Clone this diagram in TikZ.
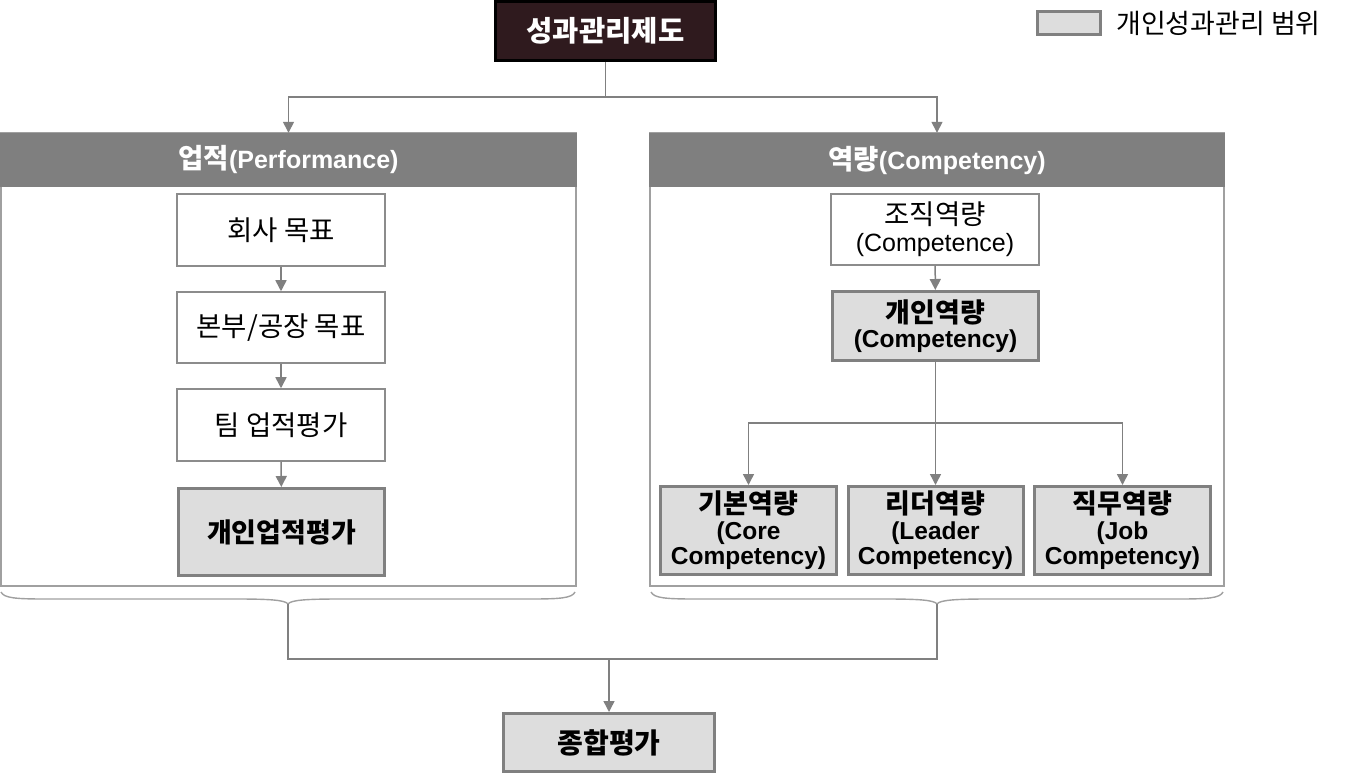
\documentclass[tikz,border=0pt]{standalone}
\usepackage{fontspec}
\setmainfont{Liberation Sans}
\newfontfamily\kr[Scale=1.1]{Noto Sans CJK KR}
\usetikzlibrary{arrows.meta}
\newcommand\K[1]{{\kr #1}}
\definecolor{titlefill}{RGB}{47,26,30}
\definecolor{hdrgray}{RGB}{127,127,127}
\definecolor{boxgray}{RGB}{221,221,221}
\definecolor{edgegray}{RGB}{128,128,128}
\definecolor{linegray}{RGB}{140,140,140}
\definecolor{panelgray}{RGB}{160,160,160}
\begin{document}
\begin{tikzpicture}[x=1pt,y=-1pt,
  base/.style={draw, rectangle, inner sep=0pt, align=center, text=black},
  whitebox/.style={base, draw=linegray, line width=1.5pt, fill=white, minimum width=208pt, font=\fontsize{25}{27}\selectfont},
  graybox/.style={base, draw=edgegray, line width=3pt, fill=boxgray, font=\bfseries\fontsize{24.5}{25.5}\selectfont},
  panel/.style={draw=panelgray, line width=1.3pt, fill=white, rectangle, inner sep=0pt},
  header/.style={fill=hdrgray, rectangle, inner sep=0pt, text=white, font=\bfseries\fontsize{25}{27}\selectfont},
  conn/.style={draw=edgegray, line width=1.5pt},
  arr/.style={conn, -{Triangle[width=11pt,length=11pt]}},
  bracestyle/.style={draw=panelgray, line width=1.4pt},
]
\useasboundingbox (0,0) rectangle (1349,775);

% title
\node[draw=black, line width=3pt, fill=titlefill, text=white, inner sep=0pt,
      font=\kr\bfseries\fontsize{26}{28}\selectfont,
      minimum width=220pt, minimum height=59pt] (title) at (605.5,31) {성과관리제도};

% legend
\node[graybox, minimum width=63pt, minimum height=23pt] (leg) at (1068.5,23.5) {};
\node[anchor=west, inner sep=0pt, font=\kr\fontsize{24.5}{26}\selectfont] (legt) at (1116,23.5) {개인성과관리 범위};

% panels
\node[panel, minimum width=575pt, minimum height=453pt] (lp) at (288.5,359.5) {};
\node[panel, minimum width=574pt, minimum height=453pt] (rp) at (937,359.5) {};
\node[header, minimum width=576.5pt, minimum height=54pt] (lhdr) at (288.5,160) {\K{업적}(Performance)};
\node[header, minimum width=575.5pt, minimum height=54pt] (rhdr) at (937,160) {\K{역량}(Competency)};

% left chain
\node[whitebox, minimum height=72pt] (a1) at (281,230) {\K{회사 목표}};
\node[whitebox, minimum height=71pt] (a2) at (281,327.5) {\K{본부/공장 목표}};
\node[whitebox, minimum height=72pt] (a3) at (281,425) {\K{팀 업적평가}};
\node[graybox, minimum width=206pt, minimum height=87pt] (a4) at (281.5,532) {\K{개인업적평가}};

% right chain
\node[whitebox, minimum height=71pt] (b1) at (935,229.5) {\K{조직역량}\\(Competence)};
\node[graybox, minimum width=206pt, minimum height=69pt] (b2) at (935.5,326) {\K{개인역량}\\(Competency)};
\node[graybox, minimum width=176pt, minimum height=88pt] (c1) at (748.5,530.5) {\K{기본역량}\\(Core\\Competency)};
\node[graybox, minimum width=175pt, minimum height=88pt] (c2) at (935.5,530.5) {\K{리더역량}\\(Leader\\Competency)};
\node[graybox, minimum width=176pt, minimum height=88pt] (c3) at (1122.5,530.5) {\K{직무역량}\\(Job\\Competency)};

% final
\node[graybox, minimum width=211pt, minimum height=58pt, font=\kr\bfseries\fontsize{25.5}{27}\selectfont] (final) at (609,742.5) {종합평가};

% top connectors
\coordinate (t) at (605.5,97);
\draw[conn] (title) -- (t);
\draw[arr] (t) -| (lhdr.north);
\draw[arr] (t) -| (rhdr.north);

% left arrows
\draw[arr] (a1) -- (a2);
\draw[arr] (a2) -- (a3);
\draw[arr] (a3) -- (a4);

% right arrows
\draw[arr] (b1) -- (b2);
\coordinate (j) at (935.5,423);
\draw[conn] (b2) -- (j);
\draw[arr] (j) -- (c2);
\draw[arr] (j) -| (c1.north);
\draw[arr] (j) -| (c3.north);

% braces
\coordinate (tipL) at (288,604);
\coordinate (tipR) at (937,604);
\draw[bracestyle] (1,592) .. controls (4,598) and (15,599) .. (45,599) -- (235,599)
  .. controls (270,599) and (285,600) .. (tipL)
  .. controls (291,600) and (306,599) .. (341,599) -- (531,599)
  .. controls (561,599) and (572,598) .. (575,592);
\draw[bracestyle] (651,592) .. controls (654,598) and (665,599) .. (695,599) -- (884,599)
  .. controls (919,599) and (934,600) .. (tipR)
  .. controls (940,600) and (955,599) .. (990,599) -- (1179,599)
  .. controls (1209,599) and (1220,598) .. (1223,592);

% bottom connectors
\coordinate (m) at (609,659);
\draw[conn] (tipL) |- (m) -| (tipR);
\draw[arr] (m) -- (final);
\end{tikzpicture}
\end{document}
